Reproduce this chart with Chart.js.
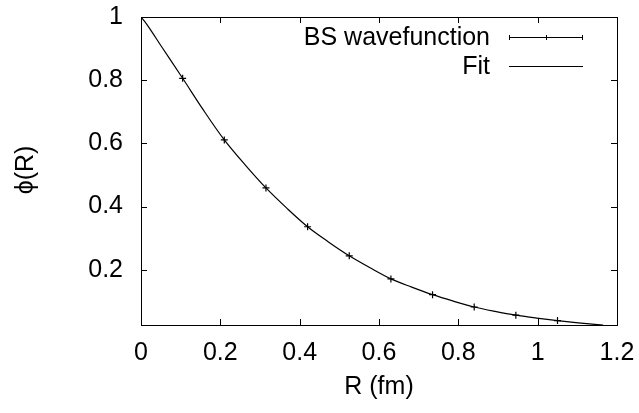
<!DOCTYPE html>
<html>
<head>
<meta charset="utf-8">
<script src="https://cdn.jsdelivr.net/npm/chart.js@4/dist/chart.umd.min.js"></script>
<style>
  html, body { margin: 0; padding: 0; background: #fff; }
  #wrap { width: 639px; height: 413px; }
</style>
</head>
<body>
<div id="wrap"><canvas id="phiChart"></canvas></div>
<script>
// BS wavefunction samples (lattice points)
const bsR = [0.105, 0.21, 0.315, 0.42, 0.525, 0.63, 0.735, 0.84, 0.945, 1.05];
const bsPhi = [0.806, 0.611, 0.459, 0.336, 0.244, 0.171, 0.121, 0.082, 0.056, 0.039];

// fit curve
const fitR = [0, 0.015, 0.0525, 0.105, 0.1575, 0.21, 0.2625, 0.315, 0.3675, 0.42, 0.4725, 0.525,
              0.5775, 0.63, 0.6825, 0.735, 0.7875, 0.84, 0.8925, 0.945, 0.9975, 1.05, 1.1025, 1.165];
const fitPhi = [1.0, 0.976, 0.905, 0.806, 0.705, 0.611, 0.532, 0.459, 0.395, 0.336, 0.288, 0.244,
                0.206, 0.171, 0.145, 0.121, 0.1005, 0.082, 0.068, 0.056, 0.047, 0.039, 0.032, 0.025];

const xTicks = [0, 0.2, 0.4, 0.6, 0.8, 1, 1.2];
const yTicks = [0.2, 0.4, 0.6, 0.8, 1];

const FONT = 'Liberation Sans, Arial, Helvetica, sans-serif';

// gnuplot-like frame, inward ticks, legend and axis titles
const gnuplotFrame = {
  id: 'gnuplotFrame',
  afterDraw(chart) {
    const ctx = chart.ctx;
    const a = chart.chartArea;
    const xs = chart.scales.x, ys = chart.scales.y;
    ctx.save();
    ctx.strokeStyle = '#000';
    ctx.lineWidth = 1;
    ctx.strokeRect(Math.round(a.left) + 0.5, Math.round(a.top) + 0.5,
                   Math.round(a.right - a.left), Math.round(a.bottom - a.top));
    const tl = 6;
    ctx.beginPath();
    xTicks.forEach(v => {
      const px = Math.round(xs.getPixelForValue(v)) + 0.5;
      ctx.moveTo(px, a.bottom); ctx.lineTo(px, a.bottom - tl);
      ctx.moveTo(px, a.top); ctx.lineTo(px, a.top + tl);
    });
    yTicks.forEach(v => {
      const py = Math.round(ys.getPixelForValue(v)) + 0.5;
      ctx.moveTo(a.left, py); ctx.lineTo(a.left + tl, py);
      ctx.moveTo(a.right, py); ctx.lineTo(a.right - tl, py);
    });
    ctx.stroke();

    // legend
    ctx.fillStyle = '#000';
    ctx.font = '25px ' + FONT;
    ctx.textAlign = 'right';
    ctx.textBaseline = 'middle';
    ctx.fillText('BS wavefunction', 490, 38);
    ctx.fillText('Fit', 490, 67);
    ctx.beginPath();
    ctx.moveTo(509, 37.5); ctx.lineTo(583, 37.5);
    ctx.moveTo(509.5, 35); ctx.lineTo(509.5, 40);
    ctx.moveTo(582.5, 35); ctx.lineTo(582.5, 40);
    ctx.moveTo(546.5, 35); ctx.lineTo(546.5, 40);
    ctx.moveTo(509, 66.5); ctx.lineTo(583, 66.5);
    ctx.stroke();

    // axis titles
    ctx.textAlign = 'center';
    ctx.fillText('R (fm)', (a.left + a.right) / 2, 387);
    ctx.translate(26, 170);
    ctx.rotate(-Math.PI / 2);
    ctx.fillText('\u03d5(R)', 0, 0);
    ctx.restore();
  }
};

const ctx = document.getElementById('phiChart').getContext('2d');
new Chart(ctx, {
  type: 'scatter',
  data: {
    datasets: [
      {
        label: 'BS wavefunction',
        data: bsR.map((r, i) => ({ x: r, y: bsPhi[i] })),
        pointStyle: 'cross',
        pointRadius: 3.5,
        pointBorderWidth: 1.2,
        borderColor: '#000',
        backgroundColor: '#000',
        showLine: false,
      },
      {
        label: 'Fit',
        data: fitR.map((r, i) => ({ x: r, y: fitPhi[i] })),
        showLine: true,
        borderColor: '#000',
        borderWidth: 1.2,
        pointRadius: 0,
        cubicInterpolationMode: 'monotone',
      },
    ],
  },
  options: {
    responsive: true,
    maintainAspectRatio: false,
    animation: false,
    layout: { padding: { top: 17, right: 22, left: 0, bottom: 0 } },
    plugins: { legend: { display: false }, tooltip: { enabled: false } },
    scales: {
      x: {
        type: 'linear',
        min: 0,
        max: 1.2,
        afterFit: s => { s.height = 88; s.paddingLeft = 0; s.paddingRight = 0; },
        afterBuildTicks: s => { s.ticks = xTicks.map(v => ({ value: v })); },
        grid: { display: false, drawTicks: false },
        border: { display: false },
        ticks: {
          padding: 13,
          color: '#000',
          font: { family: FONT, size: 25 },
          maxRotation: 0,
          callback: v => String(+v.toFixed(1)),
        },
      },
      y: {
        type: 'linear',
        min: 0.025,
        max: 1,
        afterFit: s => { s.width = 141; s.paddingTop = 0; s.paddingBottom = 0; },
        afterBuildTicks: s => { s.ticks = yTicks.map(v => ({ value: v })); },
        grid: { display: false, drawTicks: false },
        border: { display: false },
        ticks: {
          padding: 18,
          color: '#000',
          font: { family: FONT, size: 25 },
          callback: v => String(+v.toFixed(1)),
        },
      },
    },
  },
  plugins: [gnuplotFrame],
});
</script>
</body>
</html>
